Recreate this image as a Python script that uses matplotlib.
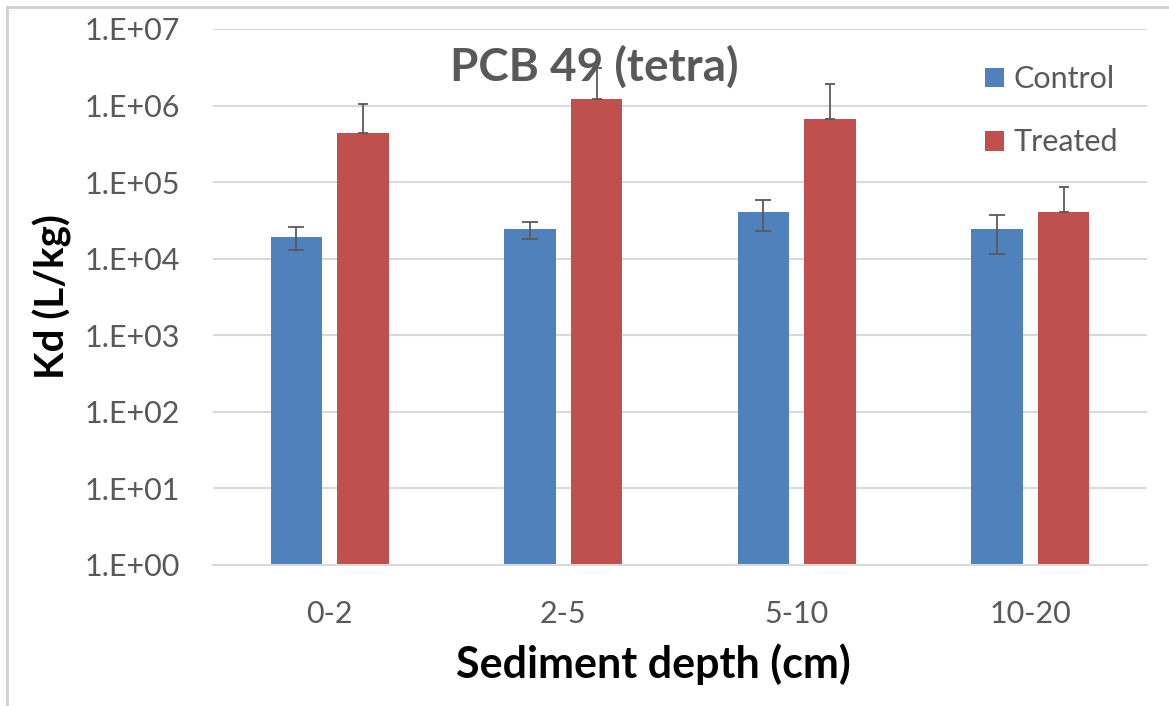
import numpy as np
import matplotlib.pyplot as plt
from matplotlib.patches import Patch
from matplotlib.lines import Line2D

plt.rcParams["font.family"] = ["Lato", "DejaVu Sans"]

# Data (Kd, L/kg)
depths = ["0-2", "2-5", "5-10", "10-20"]
control = [1.95e4, 2.43e4, 4.1e4, 2.43e4]
control_err = [6.5e3, 6.0e3, 1.8e4, 1.28e4]
treated = [4.4e5, 1.22e6, 6.6e5, 4.05e4]
treated_err = [6.1e5, 1.9e6, 1.25e6, 4.5e4]
ytick_values = [1e0, 1e1, 1e2, 1e3, 1e4, 1e5, 1e6, 1e7]
ytick_labels = ["1.E+00", "1.E+01", "1.E+02", "1.E+03",
                "1.E+04", "1.E+05", "1.E+06", "1.E+07"]

blue = "#4F81BD"
red = "#C0504D"
grid_gray = "#D9D9D9"
text_gray = "#595959"
err_gray = "#5A5A5A"

W, H = 1169, 706
fig = plt.figure(figsize=(W / 100, H / 100), dpi=100)
ax = fig.add_axes([213 / W, 1 - 565 / H, (1147 - 213) / W, (565 - 29) / H])

x = np.arange(len(depths))
width = 0.22
off = 0.143

ax.bar(x - off, control, width, color=blue, zorder=2)
ax.bar(x + off, treated, width, color=red, zorder=2)

ax.errorbar(x - off, control, yerr=control_err, fmt="none",
            ecolor=err_gray, elinewidth=1.3, capsize=5.8, capthick=1.3, zorder=3)
ax.errorbar(x + off, treated, yerr=[np.zeros(len(treated)), treated_err],
            fmt="none", ecolor=err_gray, elinewidth=1.3, capsize=3.5,
            capthick=1.3, zorder=3)

ax.set_yscale("log")
ax.set_ylim(1, 1e7)
ax.set_xlim(-0.5, len(depths) - 0.5)
ax.set_yticks(ytick_values)
ax.set_yticklabels(ytick_labels)
ax.minorticks_off()
ax.set_xticks(x)
ax.set_xticklabels(depths)
ax.tick_params(axis="both", length=0, labelsize=22, labelcolor=text_gray)
ax.tick_params(axis="y", pad=24)
ax.tick_params(axis="x", pad=25)

ax.grid(axis="y", color=grid_gray, linewidth=1.5, zorder=0)
ax.set_axisbelow(True)
for s in ["left", "right", "top"]:
    ax.spines[s].set_visible(False)
ax.spines["bottom"].set_color(grid_gray)
ax.spines["bottom"].set_linewidth(1.5)

ax.set_ylabel("Kd (L/kg)", fontsize=29, fontweight="bold", color="black",
              labelpad=9)
ax.set_xlabel("Sediment depth (cm)", fontsize=31, fontweight="bold",
              color="black")
ax.xaxis.set_label_coords(0.472, -0.146)

fig.text(594 / W, 1 - 67 / H, "PCB 49 (tetra)", ha="center", va="center",
         fontsize=33, fontweight="bold", color=text_gray)

handles = [Patch(facecolor=blue, label="Control"),
           Patch(facecolor=red, label="Treated")]
ax.legend(handles=handles, loc="upper left", bbox_to_anchor=(970 / W, 1 - 50 / H),
          bbox_transform=fig.transFigure, frameon=False, fontsize=22,
          labelcolor=text_gray, handlelength=0.62, handleheight=0.62,
          handletextpad=0.3, labelspacing=1.15, borderpad=0)

# light frame lines on the left and top edges
fig.add_artist(Line2D([7 / W, 7 / W], [0, 1 - 7 / H], color="#D0D0D0",
                      linewidth=2, transform=fig.transFigure))
fig.add_artist(Line2D([7 / W, 1], [1 - 7 / H, 1 - 7 / H], color="#D0D0D0",
                      linewidth=2, transform=fig.transFigure))

fig.savefig("out.png", dpi=100)
